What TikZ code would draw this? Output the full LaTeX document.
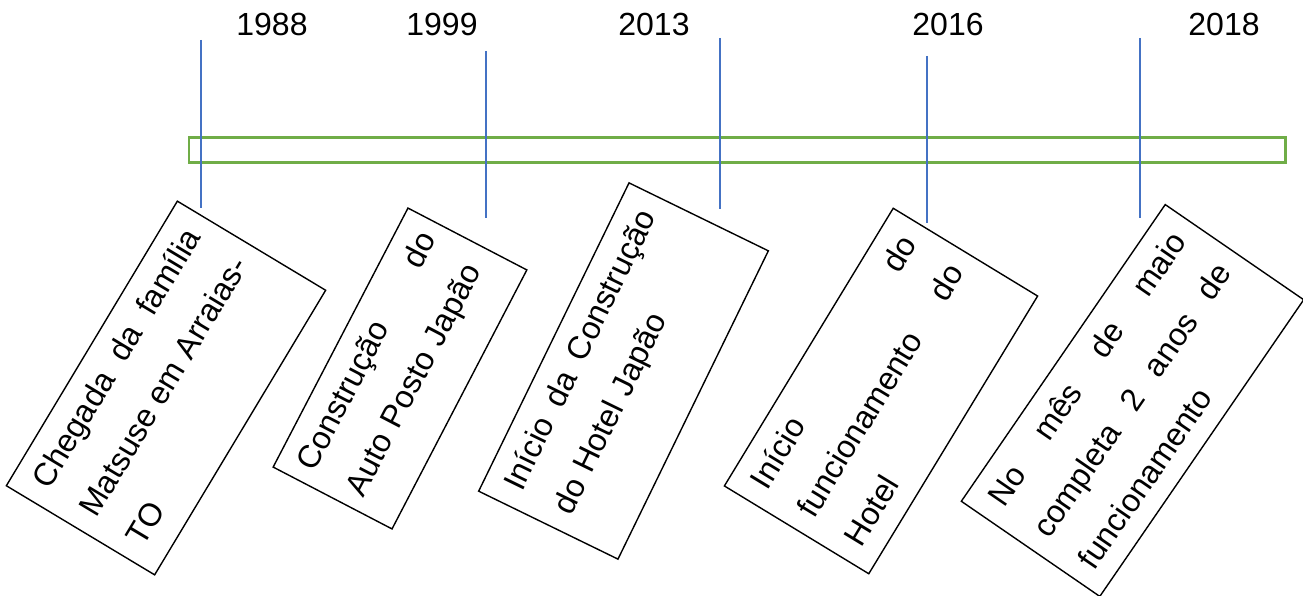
\documentclass[tikz,border=0pt]{standalone}
\usepackage{fontspec}
\setmainfont{Liberation Sans}
\definecolor{tickblue}{HTML}{4472C4}
\definecolor{bargreen}{HTML}{70AD47}
\begin{document}
\begin{tikzpicture}[x=1pt,y=-1pt,
  year/.style={font=\fontsize{32}{38}\selectfont, anchor=base, inner sep=0pt},
  tick/.style={draw=tickblue, line width=1.5pt},
  bar/.style={draw=bargreen, line width=2.7pt},
  event/.style={draw=black, line width=1.4pt, font=\fontsize{32}{55}\selectfont,
    align=left, inner xsep=18pt, inner ysep=10pt, text height=29.5pt},
]
\useasboundingbox (0,0) rectangle (1303,596);

% timeline bar
\draw[bar] (189,137.5) rectangle (1285.5,162.5);

% year labels
\node[year] (y1988) at (272,36) {1988};
\node[year] (y1999) at (442,36) {1999};
\node[year] (y2013) at (654,36) {2013};
\node[year] (y2016) at (948,36) {2016};
\node[year] (y2018) at (1224,36) {2018};

% ticks
\coordinate (t1a) at (201,40);  \coordinate (t1b) at (201,208);
\coordinate (t2a) at (486,51);  \coordinate (t2b) at (486,218);
\coordinate (t3a) at (720,38);  \coordinate (t3b) at (720,209);
\coordinate (t4a) at (927,56);  \coordinate (t4b) at (927,223);
\coordinate (t5a) at (1140,38); \coordinate (t5b) at (1140,218);
\draw[tick] (t1a) -- (t1b);
\draw[tick] (t2a) -- (t2b);
\draw[tick] (t3a) -- (t3b);
\draw[tick] (t4a) -- (t4b);
\draw[tick] (t5a) -- (t5b);

% event boxes
\node[event, rotate=59, text width=296pt, text depth=123.5pt] (e1) at (166,388)
  {Chegada\hfill da\hfill família\\Matsuse\hfill em\hfill Arraias-\\TO};
\node[event, rotate=62.5, inner xsep=14pt, text width=264pt, text depth=84.5pt] (e2) at (400,368.5)
  {Construção\hfill do\\\mbox{Auto Posto Japão}};
\node[event, rotate=64, text width=307pt, text depth=105.5pt] (e3) at (623.5,371)
  {Início\hfill da\hfill Construção\\do Hotel Japão};
\node[event, rotate=58.7, text width=289pt, text depth=119.5pt] (e4) at (881,391)
  {Início\hfill do\\funcionamento\hfill do\\Hotel};
\node[event, rotate=55.5, text width=324pt, text depth=118.5pt] (e5) at (1132.5,400.5)
  {No\hfill mês\hfill de\hfill maio\\completa\hfill 2\hfill anos\hfill de\\funcionamento};
\end{tikzpicture}
\end{document}
